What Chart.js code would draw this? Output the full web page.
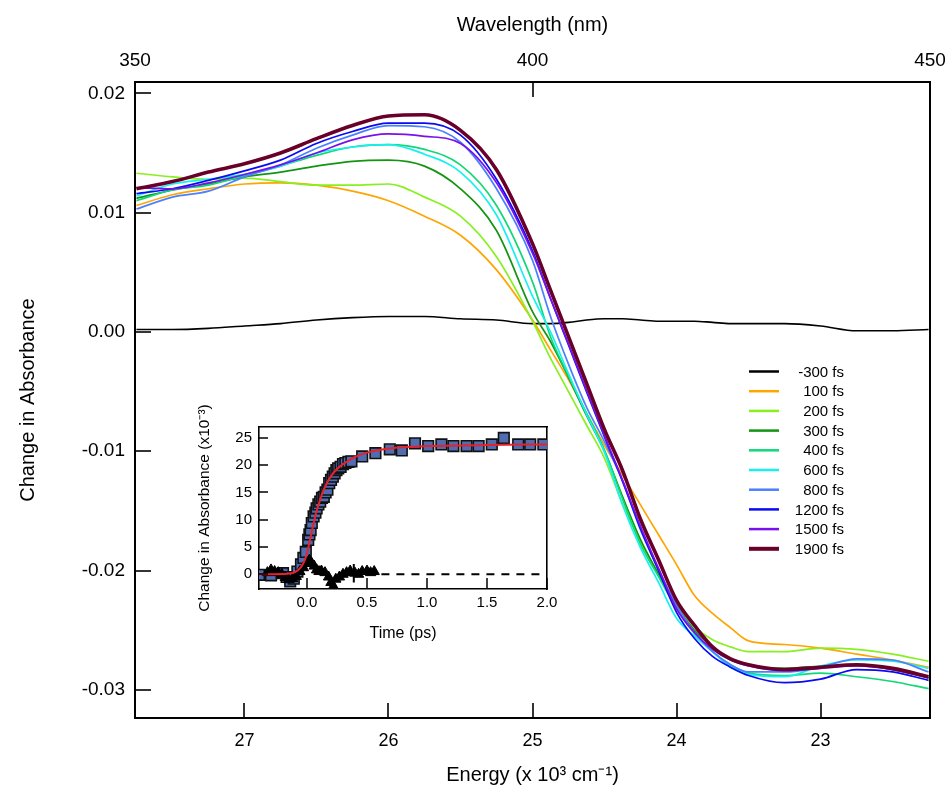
<!DOCTYPE html>
<html>
<head>
<meta charset="utf-8">
<script src="https://cdn.jsdelivr.net/npm/chart.js@4.4.0/dist/chart.umd.min.js"></script>
<style>
  body { margin: 0; background: #fff; }
  #wrap { position: relative; width: 949px; height: 790px; }
  #main { position: absolute; left: 0; top: 0; }
  #inset { position: absolute; left: 188px; top: 405px; }
</style>
</head>
<body>
<div id="wrap">
  <canvas id="main" width="949" height="790"></canvas>
  <canvas id="inset" width="377" height="245"></canvas>
</div>
<script>
// Energy axis (x 10^3 cm-1), shared by every spectrum
const energy = [27.75, 27.5, 27.25, 27.0, 26.75, 26.5, 26.25, 26.0, 25.75, 25.5, 25.25, 25.0,
  24.875, 24.75, 24.625, 24.5, 24.375, 24.25, 24.125, 24.0, 23.875, 23.75, 23.625, 23.5,
  23.25, 23.0, 22.75, 22.5, 22.25];

// Spectra, one per delay
const fsM300 = [0.0002, 0.0002, 0.0003, 0.0005, 0.0007, 0.0010, 0.0012, 0.0013, 0.0013, 0.0011, 0.0010, 0.0007,
  0.0007, 0.0008, 0.0010, 0.0011, 0.0011, 0.0010, 0.0009, 0.0009, 0.0009, 0.0008, 0.0007, 0.0007,
  0.0007, 0.0005, 0.0001, 0.0001, 0.0002];
const fs100 = [0.0106, 0.0115, 0.0120, 0.0124, 0.0125, 0.0123, 0.0118, 0.0110, 0.0097, 0.0081, 0.0052, 0.0010,
  -0.0015, -0.0040, -0.0068, -0.0095, -0.0120, -0.0145, -0.0170, -0.0195, -0.0221, -0.0236, -0.0248, -0.0259,
  -0.0262, -0.0265, -0.0270, -0.0275, -0.0281];
const fs200 = [0.0133, 0.0130, 0.0128, 0.0129, 0.0126, 0.0123, 0.0123, 0.0124, 0.0113, 0.0097, 0.0063, 0.0009,
  -0.0022, -0.0050, -0.0078, -0.0106, -0.0144, -0.0176, -0.0203, -0.0229, -0.0247, -0.0258, -0.0264, -0.0268,
  -0.0268, -0.0265, -0.0266, -0.0270, -0.0276];
const fs300 = [0.0112, 0.0119, 0.0124, 0.0130, 0.0134, 0.0139, 0.0143, 0.0144, 0.0139, 0.0120, 0.0085, 0.0017,
  -0.0008, -0.0038, -0.0070, -0.0100, -0.0138, -0.0174, -0.0203, -0.0230, -0.0250, -0.0264, -0.0274, -0.0279,
  -0.0282, -0.0280, -0.0279, -0.0283, -0.0290];
const fs400 = [0.0110, 0.0119, 0.0123, 0.0131, 0.0139, 0.0148, 0.0155, 0.0157, 0.0153, 0.0140, 0.0106, 0.0042,
  -0.0004, -0.0037, -0.0068, -0.0099, -0.0140, -0.0178, -0.0205, -0.0232, -0.0253, -0.0268, -0.0279, -0.0286,
  -0.0288, -0.0286, -0.0289, -0.0293, -0.0299];
const fs600 = [0.0114, 0.0124, 0.0128, 0.0132, 0.0139, 0.0150, 0.0155, 0.0157, 0.0149, 0.0134, 0.0098, 0.0030,
  0.0000, -0.0035, -0.0069, -0.0101, -0.0145, -0.0181, -0.0210, -0.0240, -0.0255, -0.0268, -0.0281, -0.0287,
  -0.0289, -0.0280, -0.0275, -0.0276, -0.0282];
const fs800 = [0.0103, 0.0113, 0.0118, 0.0130, 0.0140, 0.0154, 0.0165, 0.0173, 0.0172, 0.0159, 0.0120, 0.0060,
  0.0013, -0.0027, -0.0063, -0.0092, -0.0125, -0.0166, -0.0199, -0.0229, -0.0252, -0.0268, -0.0279, -0.0285,
  -0.0285, -0.0281, -0.0274, -0.0275, -0.0285];
const fs1200 = [0.0116, 0.0120, 0.0127, 0.0135, 0.0144, 0.0158, 0.0168, 0.0175, 0.0175, 0.0165, 0.0128, 0.0068,
  0.0028, -0.0011, -0.0050, -0.0088, -0.0125, -0.0165, -0.0200, -0.0235, -0.0257, -0.0272, -0.0281, -0.0288,
  -0.0294, -0.0291, -0.0283, -0.0285, -0.0292];
const fs1500 = [0.0121, 0.0120, 0.0125, 0.0132, 0.0140, 0.0150, 0.0161, 0.0166, 0.0164, 0.0158, 0.0125, 0.0066,
  0.0028, -0.0010, -0.0049, -0.0087, -0.0124, -0.0163, -0.0198, -0.0232, -0.0252, -0.0266, -0.0275, -0.0280,
  -0.0284, -0.0282, -0.0280, -0.0283, -0.0290];
const fs1900 = [0.0120, 0.0126, 0.0134, 0.0141, 0.0150, 0.0162, 0.0173, 0.0181, 0.0182, 0.0169, 0.0136, 0.0074,
  0.0035, -0.0004, -0.0043, -0.0082, -0.0116, -0.0157, -0.0191, -0.0225, -0.0246, -0.0264, -0.0274, -0.0279,
  -0.0283, -0.0281, -0.0279, -0.0282, -0.0289];

const delayLabels = ["-300 fs", "100 fs", "200 fs", "300 fs", "400 fs", "600 fs", "800 fs", "1200 fs", "1500 fs", "1900 fs"];
const delaySeries = [fsM300, fs100, fs200, fs300, fs400, fs600, fs800, fs1200, fs1500, fs1900];
const delayColors = ["#000000", "#ffa500", "#88f020", "#139513", "#10d878", "#18f0f0", "#4a80ff", "#0a0af5", "#7a10ec", "#680029"];

// Tick values
const yTicks = [-0.03, -0.02, -0.01, 0.0, 0.01, 0.02];
const energyTicks = [23, 24, 25, 26, 27];
const wavelengthTicks = [350, 400, 450];

// Inset: kinetics trace
const sqTime = [-0.40, -0.30, -0.20, -0.17, -0.14, -0.11, -0.08, -0.05, -0.03, -0.01, 0.01, 0.02, 0.03, 0.04, 0.055,
  0.07, 0.08, 0.095, 0.11, 0.125, 0.14, 0.155, 0.17, 0.185, 0.20, 0.215, 0.23, 0.245, 0.26, 0.28, 0.30, 0.32,
  0.345, 0.37, 0.46, 0.57, 0.69, 0.79, 0.90, 1.01, 1.12, 1.22, 1.33, 1.43, 1.54, 1.64, 1.76, 1.86, 1.97];
const sqValue = [-0.1, -0.2, 0.2, -0.5, -1.3, -0.8, 0.5, 1.8, 3.0, 4.1, 6.3, 7.3, 8.1, 9.4, 10.6,
  11.3, 12.1, 12.8, 13.3, 14.0, 14.2, 15.0, 15.5, 16.7, 17.3, 17.9, 18.5, 19.1, 19.4, 19.7, 20.2, 20.4,
  20.6, 20.7, 21.6, 22.2, 22.9, 22.7, 24.0, 23.5, 23.8, 23.5, 23.5, 23.5, 23.8, 25.0, 23.8, 23.8, 23.8];
const triTime = [-0.33, -0.30, -0.27, -0.24, -0.21, -0.18, -0.15, -0.12, -0.09, -0.06, -0.03, 0.00, 0.02, 0.04,
  0.06, 0.08, 0.10, 0.12, 0.15, 0.18, 0.20, 0.22, 0.24, 0.27, 0.30, 0.33, 0.36, 0.40, 0.43, 0.46, 0.50, 0.53, 0.56];
const triValue = [0.3, 0.8, 0.5, 0.3, 0.0, -0.6, -1.0, -0.8, -0.4, 0.5, 1.2, 2.0, 2.6, 2.0,
  1.5, 0.8, 0.5, 0.6, 0.3, -0.5, -1.5, -2.2, -0.9, -0.5, 0.0, 0.3, 0.6, 0.2, 0.0, 0.5, 0.6, 0.3, 0.5];
const fitTime = [-0.4, -0.2, -0.1, -0.05, -0.02, 0.0, 0.02, 0.04, 0.06, 0.08, 0.1, 0.12, 0.14, 0.17, 0.2, 0.25,
  0.3, 0.35, 0.4, 0.5, 0.6, 0.8, 1.0, 1.5, 2.0];
const fitValue = [0, 0.05, 0.4, 1.3, 2.5, 3.8, 5.8, 7.9, 9.8, 11.6, 13.0, 14.4, 15.5, 16.9, 18.0, 19.3,
  20.2, 20.9, 21.5, 22.3, 22.8, 23.3, 23.5, 23.7, 23.8];
const errTime = [0.39, 0.39];
const errValue = [1.9, -1.5];
const baseTime = [0.62, 2.0];
const baseValue = [0, 0];
const insetYTicks = [0, 5, 10, 15, 20, 25];
const insetXTicks = [0, 0.5, 1.0, 1.5, 2.0];

Chart.defaults.font.family = "'Liberation Sans', Arial, sans-serif";
Chart.defaults.color = "#000";

function pairs(xs, ys) {
  return xs.map(function (x, i) { return { x: x, y: ys[i] }; });
}

function fixTicks(list) {
  return function (scale) {
    scale.ticks = list.map(function (v) { return { value: v }; });
  };
}

// force the box size of a scale and drop the edge-label padding
function boxSize(w, h) {
  return function (s) {
    if (w != null) s.width = w;
    if (h != null) s.height = h;
    s.paddingLeft = 0;
    s.paddingRight = 0;
    s.paddingTop = 0;
    s.paddingBottom = 0;
  };
}

// ticks drawn pointing into the plot
var inTicks = {
  id: "inTicks",
  afterDraw(chart, args, opts) {
    var ctx = chart.ctx;
    ctx.save();
    ctx.strokeStyle = "#000";
    ctx.lineWidth = opts.width;
    opts.axes.forEach(function (a) {
      var s = chart.scales[a.id];
      s.ticks.forEach(function (t) {
        var p = Math.round(s.getPixelForValue(t.value));
        ctx.beginPath();
        if (s.position == "left") {
          ctx.moveTo(s.right, p); ctx.lineTo(s.right + a.len, p);
        } else if (s.position == "bottom") {
          ctx.moveTo(p, s.top); ctx.lineTo(p, s.top - a.len);
        } else if (s.position == "top") {
          ctx.moveTo(p, s.bottom); ctx.lineTo(p, s.bottom + a.len);
        }
        ctx.stroke();
      });
    });
    ctx.restore();
  }
};

// legend inside the plot, text right aligned
var sideLegend = {
  id: "sideLegend",
  afterDraw(chart) {
    var ctx = chart.ctx;
    ctx.save();
    ctx.font = "15px 'Liberation Sans', Arial, sans-serif";
    ctx.textAlign = "right";
    ctx.textBaseline = "middle";
    chart.data.datasets.forEach(function (ds, i) {
      var y = 371.5 + i * 19.7;
      ctx.strokeStyle = ds.borderColor;
      ctx.lineWidth = ds.borderWidth > 2 ? 4 : 2.5;
      ctx.beginPath();
      ctx.moveTo(749, y);
      ctx.lineTo(779, y);
      ctx.stroke();
      ctx.fillStyle = "#000";
      ctx.fillText(ds.label, 844, y + 1);
    });
    ctx.restore();
  }
};

var mainSets = delaySeries.map(function (s, i) {
  return {
    label: delayLabels[i],
    data: pairs(energy, s),
    borderColor: delayColors[i],
    borderWidth: i == 9 ? 3.6 : (i == 0 ? 1.6 : 1.7),
    pointRadius: 0,
    cubicInterpolationMode: "monotone",
    order: delaySeries.length - i
  };
});

new Chart(document.getElementById("main"), {
  type: "line",
  data: { datasets: mainSets },
  options: {
    responsive: false,
    animation: false,
    devicePixelRatio: 1,
    layout: { padding: 0 },
    plugins: {
      legend: { display: false },
      tooltip: { enabled: false },
      inTicks: {
        width: 1.6,
        axes: [{ id: "y", len: 16 }, { id: "x", len: 15 }, { id: "x2", len: 15 }]
      }
    },
    scales: {
      x: {
        type: "linear",
        position: "bottom",
        reverse: true,
        min: 22.24,
        max: 27.76,
        afterBuildTicks: fixTicks(energyTicks),
        afterFit: boxSize(null, 72),
        grid: { display: false, drawTicks: false },
        border: { display: true, color: "#000", width: 2 },
        ticks: { autoSkip: false, maxRotation: 0, padding: 12, font: { size: 18 } },
        title: { display: true, text: "Energy (x 10\u00b3 cm\u207b\u00b9)", font: { size: 20 }, padding: { bottom: 3 } }
      },
      x2: {
        type: "linear",
        position: "top",
        min: 350,
        max: 450,
        afterBuildTicks: fixTicks(wavelengthTicks),
        afterFit: boxSize(null, 82),
        grid: { display: false, drawTicks: false },
        border: { display: true, color: "#000", width: 2 },
        ticks: { autoSkip: false, maxRotation: 0, padding: 10, font: { size: 19 } },
        title: { display: true, text: "Wavelength (nm)", font: { size: 20 }, padding: { top: 13 } }
      },
      y: {
        type: "linear",
        position: "left",
        min: -0.03236,
        max: 0.02095,
        afterBuildTicks: fixTicks(yTicks),
        afterFit: boxSize(135, null),
        grid: { display: false, drawTicks: false },
        border: { display: true, color: "#000", width: 2 },
        ticks: {
          autoSkip: false,
          padding: 10,
          font: { size: 19 },
          callback: function (v) { return v.toFixed(2); }
        },
        title: { display: true, text: "Change in Absorbance", font: { size: 20 }, padding: { top: 16 } }
      },
      y2: {
        type: "linear",
        position: "right",
        min: -0.03236,
        max: 0.02095,
        afterFit: boxSize(19, null),
        grid: { display: false, drawTicks: false },
        border: { display: true, color: "#000", width: 2 },
        ticks: { display: false }
      }
    }
  },
  plugins: [inTicks, sideLegend]
});

// Inset kinetics
new Chart(document.getElementById("inset"), {
  type: "line",
  data: {
    datasets: [
      {
        label: "fit",
        data: pairs(fitTime, fitValue),
        borderColor: "#e8222c",
        borderWidth: 2,
        pointRadius: 0,
        cubicInterpolationMode: "monotone",
        order: 0
      },
      {
        label: "zero",
        data: pairs(baseTime, baseValue),
        borderColor: "#000",
        borderWidth: 2,
        borderDash: [8, 7],
        pointRadius: 0,
        order: 1
      },
      {
        label: "error",
        data: pairs(errTime, errValue),
        borderColor: "#000",
        borderWidth: 2,
        pointRadius: 0,
        order: 2
      },
      {
        label: "probe",
        data: pairs(triTime, triValue),
        showLine: false,
        pointStyle: "triangle",
        pointRadius: 6,
        backgroundColor: "#000",
        borderColor: "#000",
        borderWidth: 1,
        order: 2
      },
      {
        label: "data",
        data: pairs(sqTime, sqValue),
        showLine: false,
        pointStyle: "rect",
        pointRadius: 7.5,
        backgroundColor: "#4f6db0",
        borderColor: "#111",
        borderWidth: 1.6,
        order: 3
      }
    ]
  },
  options: {
    responsive: false,
    animation: false,
    devicePixelRatio: 1,
    layout: { padding: 0 },
    plugins: {
      legend: { display: false },
      tooltip: { enabled: false },
      inTicks: {
        width: 1.5,
        axes: [{ id: "y", len: 9 }, { id: "x", len: 11 }]
      }
    },
    scales: {
      x: {
        type: "linear",
        position: "bottom",
        min: -0.4,
        max: 2.0,
        afterBuildTicks: fixTicks(insetXTicks),
        afterFit: boxSize(null, 61),
        grid: { display: false, drawTicks: false },
        border: { display: true, color: "#000", width: 1.6 },
        ticks: {
          autoSkip: false,
          maxRotation: 0,
          padding: 5,
          font: { size: 15 },
          callback: function (v) { return v.toFixed(1); }
        },
        title: { display: true, text: "Time (ps)", font: { size: 16 }, padding: { bottom: 7 } }
      },
      x2: {
        type: "linear",
        position: "top",
        min: -0.4,
        max: 2.0,
        afterFit: boxSize(null, 22),
        grid: { display: false, drawTicks: false },
        border: { display: true, color: "#000", width: 1.6 },
        ticks: { display: false }
      },
      y: {
        type: "linear",
        position: "left",
        min: -2.7,
        max: 27,
        afterBuildTicks: fixTicks(insetYTicks),
        afterFit: boxSize(71, null),
        grid: { display: false, drawTicks: false },
        border: { display: true, color: "#000", width: 1.6 },
        ticks: { autoSkip: false, padding: 7, font: { size: 15 } },
        title: { display: true, text: "Change in Absorbance (x10\u207b\u00b3)", font: { size: 15.5 }, padding: { top: 7 } }
      },
      y2: {
        type: "linear",
        position: "right",
        min: -2.7,
        max: 27,
        afterFit: boxSize(18, null),
        grid: { display: false, drawTicks: false },
        border: { display: true, color: "#000", width: 1.6 },
        ticks: { display: false }
      }
    }
  },
  plugins: [inTicks]
});
</script>
</body>
</html>
